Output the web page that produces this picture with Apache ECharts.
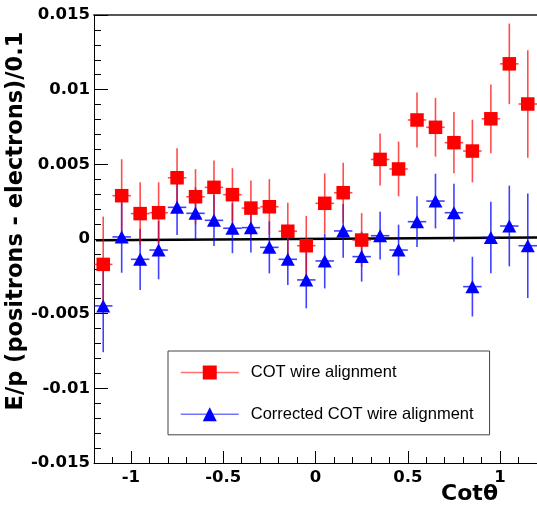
<!DOCTYPE html>
<html><head><meta charset="utf-8">
<script src="https://cdn.jsdelivr.net/npm/echarts@6/dist/echarts.min.js"></script>
<style>html,body{margin:0;padding:0;background:#fff}#c{width:537px;height:506px}</style>
</head><body><div id="c"></div>
<script>
const cotTheta = [-1.15,-1.05,-0.95,-0.85,-0.75,-0.65,-0.55,-0.45,-0.35,-0.25,-0.15,-0.05,0.05,0.15,0.25,0.35,0.45,0.55,0.65,0.75,0.85,0.95,1.05,1.15];
const binHalfWidth = 0.05;
const cotWireAlignment = [-0.0017,0.0029,0.0017,0.00176,0.0041,0.00283,0.00346,0.00297,0.00207,0.00216,0.00052,-0.00045,0.00239,0.0031,-0.00007,0.00533,0.00469,0.00797,0.00748,0.00645,0.00589,0.00805,0.01173,0.00904];
const cotWireAlignmentErr = [0.0032,0.00244,0.0021,0.00204,0.00197,0.00185,0.0018,0.00177,0.00185,0.00185,0.0019,0.002,0.002,0.002,0.0018,0.00174,0.00183,0.00184,0.00197,0.00205,0.0021,0.0023,0.0027,0.0036];
const correctedAlignment = [-0.00448,0.00014,-0.00136,-0.00074,0.00212,0.00172,0.00125,0.00072,0.00076,-0.00056,-0.00136,-0.00274,-0.00147,0.00054,-0.00118,0.00022,-0.00074,0.00116,0.00254,0.00176,-0.00319,0.0001,0.00087,-0.00045];
const correctedAlignmentErr = [0.0031,0.0024,0.00205,0.00196,0.00185,0.00173,0.00172,0.00167,0.00167,0.00174,0.00172,0.0019,0.00184,0.0018,0.00167,0.0016,0.0017,0.0017,0.00183,0.00194,0.002,0.0024,0.0027,0.0035];
const fitX = [-1.19, 1.2];
const fitY = [-0.00008, 0.0001];
const xMajorTicks = [-1, -0.5, 0, 0.5, 1];
const xMinorTicks = [-1.1,-0.9,-0.8,-0.7,-0.6,-0.4,-0.3,-0.2,-0.1,0.1,0.2,0.3,0.4,0.6,0.7,0.8,0.9,1.1];
const seriesNames = ['COT wire alignment', 'Corrected COT wire alignment'];
const xTitle = 'Cotθ';
const yTitle = 'E/p (positrons - electrons)/0.1';

const chart = echarts.init(document.getElementById('c'), null, {renderer: 'canvas'});
const tickFont = {fontFamily: 'DejaVu Sans', fontWeight: 'bold', fontSize: 16.5, color: '#000'};

function errRender(color) {
  return function (params, api) {
    const x = api.value(0), y = api.value(1), e = api.value(2);
    const t = api.coord([x, y + e]);
    const b = api.coord([x, y - e]);
    const l = api.coord([x - binHalfWidth, y]);
    const r = api.coord([x + binHalfWidth, y]);
    const st = {stroke: color, lineWidth: 1.6};
    return {type: 'group', children: [
      {type: 'line', shape: {x1: t[0], y1: t[1], x2: b[0], y2: b[1]}, style: st},
      {type: 'line', shape: {x1: l[0], y1: l[1], x2: r[0], y2: r[1]}, style: st}
    ]};
  };
}

const option = {
  animation: false,
  backgroundColor: '#fff',
  grid: {left: 94, top: 15, width: 444, height: 448, containLabel: false},
  xAxis: [
    {type: 'value', min: -1.2, max: 1.2, position: 'bottom',
     axisLine: {show: true, onZero: false, lineStyle: {color: '#000', width: 1}},
     axisTick: {show: true, inside: true, length: 12, customValues: xMajorTicks, lineStyle: {color: '#000'}},
     axisLabel: {show: true, customValues: xMajorTicks, margin: 6, ...tickFont, formatter: v => String(+v.toFixed(2))},
     splitLine: {show: false}},
    {type: 'value', min: -1.2, max: 1.2, position: 'bottom', offset: 0,
     axisLine: {show: false, onZero: false},
     axisTick: {show: true, inside: true, length: 6, customValues: xMinorTicks, lineStyle: {color: '#000'}},
     axisLabel: {show: false}, splitLine: {show: false}},
    {type: 'value', min: -1.2, max: 1.2, position: 'top',
     axisLine: {show: true, onZero: false, lineStyle: {color: '#555', width: 2}},
     axisTick: {show: false}, axisLabel: {show: false}, splitLine: {show: false}}
  ],
  yAxis: [{
    type: 'value', min: -0.015, max: 0.015, interval: 0.005,
    axisLine: {show: true, onZero: false, lineStyle: {color: '#000', width: 1}},
    axisTick: {show: true, inside: true, length: 14, lineStyle: {color: '#000'}},
    minorTick: {show: true, splitNumber: 5, length: 7, lineStyle: {color: '#000'}},
    splitLine: {show: false}, minorSplitLine: {show: false},
    axisLabel: {margin: 4, ...tickFont, formatter: v => String(+(+v).toFixed(3))}
  }],
  legend: {
    orient: 'vertical', left: 168, top: 351,
    itemWidth: 58, itemHeight: 17.5, itemGap: 24.8,
    padding: [13, 16, 12, 12],
    borderColor: '#444', borderWidth: 1, backgroundColor: '#fff',
    selectedMode: false,
    textStyle: {fontFamily: 'Liberation Sans', fontSize: 16.5, color: '#000', padding: [0, 0, 0, 7]},
    lineStyle: {width: 1.5, opacity: 1},
    data: [
      {name: seriesNames[0], lineStyle: {color: 'rgba(255,0,0,0.55)', width: 1.5, opacity: 1}},
      {name: seriesNames[1], lineStyle: {color: 'rgba(0,0,255,0.55)', width: 1.5, opacity: 1}}
    ]
  },
  graphic: [
    {type: 'text', x: 16, y: 221, rotation: Math.PI / 2, silent: true,
     style: {text: yTitle, fontFamily: 'DejaVu Sans', fontWeight: 'bold', fontSize: 22.5, fill: '#000', align: 'center', verticalAlign: 'middle'}},
    {type: 'text', x: 498, y: 505, silent: true,
     style: {text: xTitle, fontFamily: 'DejaVu Sans', fontWeight: 'bold', fontSize: 22, fill: '#000', align: 'right', verticalAlign: 'bottom'}}
  ],
  series: [
    {type: 'line', name: 'fit', data: fitX.map((x, i) => [x, fitY[i]]), symbol: 'none',
     lineStyle: {color: '#000', width: 2.5}, z: 1, silent: true},
    {type: 'custom', name: 'corrected-err', silent: true, z: 2,
     data: cotTheta.map((x, i) => [x, correctedAlignment[i], correctedAlignmentErr[i]]),
     encode: {x: 0, y: 1}, renderItem: errRender('rgba(0,0,255,0.75)')},
    {type: 'custom', name: 'cot-err', silent: true, z: 2,
     data: cotTheta.map((x, i) => [x, cotWireAlignment[i], cotWireAlignmentErr[i]]),
     encode: {x: 0, y: 1}, renderItem: errRender('rgba(255,0,0,0.7)')},
    {type: 'line', name: seriesNames[1], data: cotTheta.map((x, i) => [x, correctedAlignment[i]]),
     symbol: 'triangle', symbolSize: [14, 13], showSymbol: true, showAllSymbol: true,
     lineStyle: {width: 0, opacity: 0}, itemStyle: {color: '#0000ff'}, z: 3, emphasis: {disabled: true}},
    {type: 'line', name: seriesNames[0], data: cotTheta.map((x, i) => [x, cotWireAlignment[i]]),
     symbol: 'rect', symbolSize: 13.5, showSymbol: true, showAllSymbol: true,
     lineStyle: {width: 0, opacity: 0}, itemStyle: {color: '#ff0000'}, z: 4, emphasis: {disabled: true}}
  ]
};
chart.setOption(option);
</script>
</body></html>
